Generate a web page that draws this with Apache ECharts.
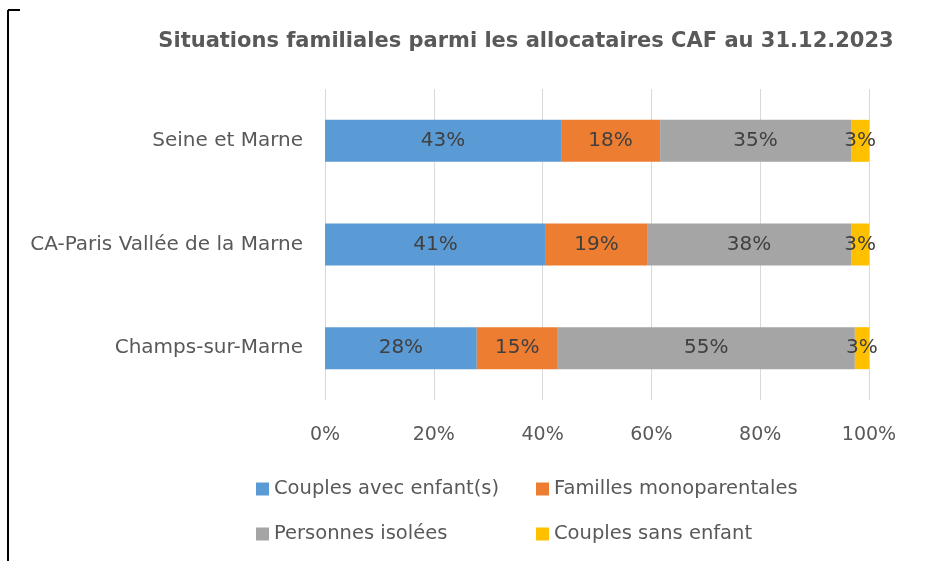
<!DOCTYPE html>
<html>
<head>
<meta charset="utf-8">
<script src="https://cdn.jsdelivr.net/npm/echarts@6/dist/echarts.min.js"></script>
<style>
  html, body { margin: 0; padding: 0; background: #fff; }
  #main { width: 949px; height: 561px; }
</style>
</head>
<body>
<div id="main"></div>
<script>
// categories, top to bottom
var territoires = ['Seine et Marne', 'CA-Paris Vallée de la Marne', 'Champs-sur-Marne'];
// shares (%)
var couplesAvecEnfants = [43.4, 40.6, 27.9];
var famillesMono = [18.2, 18.6, 14.9];
var personnesIsolees = [35.1, 37.5, 54.6];
var couplesSansEnfant = [3.3, 3.3, 2.6];
var xTicks = [0, 20, 40, 60, 80, 100];

var seriesNames = ['Couples avec enfant(s)', 'Familles monoparentales', 'Personnes isolées', 'Couples sans enfant'];
var seriesData = [couplesAvecEnfants, famillesMono, personnesIsolees, couplesSansEnfant];
var couleurs = ['#5B9BD5', '#ED7D31', '#A5A5A5', '#FFC000'];

var police = '"DejaVu Sans", sans-serif';

var chart = echarts.init(document.getElementById('main'), null, { renderer: 'canvas' });

var series = seriesNames.map(function (nom, i) {
  return {
    name: nom,
    type: 'bar',
    stack: 'total',
    barWidth: 42,
    itemStyle: { color: couleurs[i] },
    label: {
      show: true,
      position: 'inside',
      color: '#404040',
      fontFamily: police,
      fontSize: 20,
      formatter: function (p) { return Math.round(p.value) + '%'; }
    },
    data: seriesData[i]
  };
});

// one legend per item so the two rows line up like the original
var legendPos = [[251, 474], [531, 474], [251, 519], [531, 519]];
var legends = seriesNames.map(function (nom, i) {
  return {
    data: [nom],
    left: legendPos[i][0],
    top: legendPos[i][1],
    icon: 'rect',
    itemWidth: 13,
    itemHeight: 13,
    itemGap: 6,
    textStyle: { color: '#595959', fontFamily: police, fontSize: 19.5 }
  };
});

chart.setOption({
  animation: false,
  title: {
    text: 'Situations familiales parmi les allocataires CAF au 31.12.2023',
    left: 521,
    textAlign: 'center',
    top: 26,
    textStyle: { color: '#595959', fontFamily: police, fontSize: 21, fontWeight: 'bold' }
  },
  legend: legends,
  grid: { left: 325, right: 80, top: 89, bottom: 161, containLabel: false },
  xAxis: {
    type: 'value',
    min: xTicks[0],
    max: xTicks[xTicks.length - 1],
    interval: xTicks[1] - xTicks[0],
    axisLine: { show: false },
    axisTick: { show: false },
    axisLabel: { color: '#595959', fontFamily: police, fontSize: 19, margin: 26, formatter: '{value}%' },
    splitLine: { lineStyle: { color: '#D9D9D9', width: 1 } }
  },
  yAxis: {
    type: 'category',
    inverse: true,
    data: territoires,
    axisLine: { show: false },
    axisTick: { show: false },
    axisLabel: { color: '#595959', fontFamily: police, fontSize: 20, margin: 22 }
  },
  graphic: [
    { type: 'line', shape: { x1: 8, y1: 10, x2: 8, y2: 561 }, style: { stroke: '#000', lineWidth: 2 } },
    { type: 'line', shape: { x1: 8, y1: 10, x2: 20, y2: 10 }, style: { stroke: '#000', lineWidth: 2 } }
  ],
  series: series
});
</script>
</body>
</html>
